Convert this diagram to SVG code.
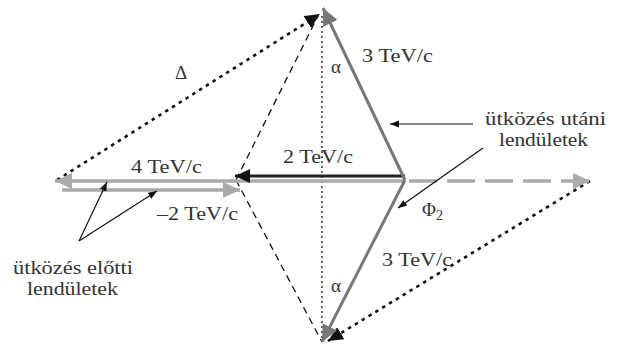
<svg xmlns="http://www.w3.org/2000/svg" width="618" height="345" viewBox="0 0 618 345">
<style>
text{font-family:"Liberation Serif","Times New Roman",serif;font-size:19px;fill:#333}
.lg{stroke:#aaa;stroke-width:3.5;fill:none}
.dg{stroke:#777;stroke-width:3;fill:none}
.bk{stroke:#222;stroke-width:3;fill:none}
.dot{stroke:#111;stroke-width:2.6;stroke-dasharray:3.5 4.5;fill:none}
.dash{stroke:#111;stroke-width:1.3;stroke-dasharray:7 5;fill:none}
.vdot{stroke:#111;stroke-width:1.3;stroke-dasharray:2 3;fill:none}
.ptr{stroke:#111;stroke-width:1.2;fill:none}
</style>
<defs>
<marker id="mLg" markerUnits="userSpaceOnUse" markerWidth="18" markerHeight="16" refX="17" refY="8" orient="auto"><path d="M0,0 L17,8 L0,16 z" fill="#aaa"/></marker>
<marker id="mDg" markerUnits="userSpaceOnUse" markerWidth="18" markerHeight="16" refX="17" refY="8" orient="auto"><path d="M0,0 L17,8 L0,16 z" fill="#777"/></marker>
<marker id="mBk" markerUnits="userSpaceOnUse" markerWidth="16" markerHeight="14" refX="15" refY="7" orient="auto"><path d="M0,0 L15,7 L0,14 z" fill="#111"/></marker>
<marker id="mPt" markerUnits="userSpaceOnUse" markerWidth="10" markerHeight="8" refX="9" refY="3.5" orient="auto"><path d="M0,0 L9,3.5 L0,7 z" fill="#111"/></marker>
</defs>
<g id="connectors">
<line class="vdot" x1="322" y1="16" x2="322" y2="338"/>
<line class="dash" x1="236" y1="180" x2="318" y2="16"/>
<line class="dash" x1="236" y1="180" x2="322" y2="342"/>
<line class="dot" x1="57" y1="180" x2="320" y2="14" marker-end="url(#mBk)"/>
<line class="dot" x1="590" y1="181" x2="328" y2="341" marker-end="url(#mBk)"/>
<line class="lg" x1="405" y1="181" x2="55" y2="181" marker-end="url(#mLg)"/>
<line class="lg" x1="62" y1="190" x2="240" y2="190" marker-end="url(#mLg)"/>
<line class="lg" x1="409" y1="181" x2="590" y2="181" stroke-dasharray="28 10" marker-end="url(#mLg)"/>
<line class="bk" x1="405" y1="176" x2="235" y2="176" marker-end="url(#mBk)"/>
<line class="dg" x1="405" y1="180" x2="323" y2="8" marker-end="url(#mDg)"/>
<line class="dg" x1="405" y1="180" x2="322" y2="342" marker-end="url(#mDg)"/>
<line class="ptr" x1="473" y1="124" x2="390" y2="124" marker-end="url(#mPt)"/>
<line class="ptr" x1="483" y1="148" x2="398" y2="208" marker-end="url(#mPt)"/>
<line class="ptr" x1="79" y1="241" x2="107" y2="182" marker-end="url(#mPt)"/>
<line class="ptr" x1="79" y1="241" x2="157" y2="191" marker-end="url(#mPt)"/>
</g>
<g id="labels">
<text id="delta" x="175" y="79">Δ</text>
<text x="131" y="173" textLength="71" lengthAdjust="spacingAndGlyphs">4 TeV/c</text>
<text x="283" y="163" textLength="70" lengthAdjust="spacingAndGlyphs">2 TeV/c</text>
<text x="362" y="62" textLength="71" lengthAdjust="spacingAndGlyphs">3 TeV/c</text>
<text x="331" y="73">α</text>
<text x="157" y="220" textLength="81" lengthAdjust="spacingAndGlyphs">–2 TeV/c</text>
<text x="422" y="216">Φ<tspan font-size="14" dy="4">2</tspan></text>
<text x="382" y="266" textLength="70" lengthAdjust="spacingAndGlyphs">3 TeV/c</text>
<text x="331" y="292">α</text>
</g>
<g id="after-label">
<text x="485" y="125" textLength="121" lengthAdjust="spacingAndGlyphs">ütközés utáni</text>
<text x="499" y="146" textLength="89" lengthAdjust="spacingAndGlyphs">lendületek</text>
</g>
<g id="before-label">
<text x="13" y="274" textLength="120" lengthAdjust="spacingAndGlyphs">ütközés előtti</text>
<text x="27" y="295" textLength="91" lengthAdjust="spacingAndGlyphs">lendületek</text>
</g>
</svg>
